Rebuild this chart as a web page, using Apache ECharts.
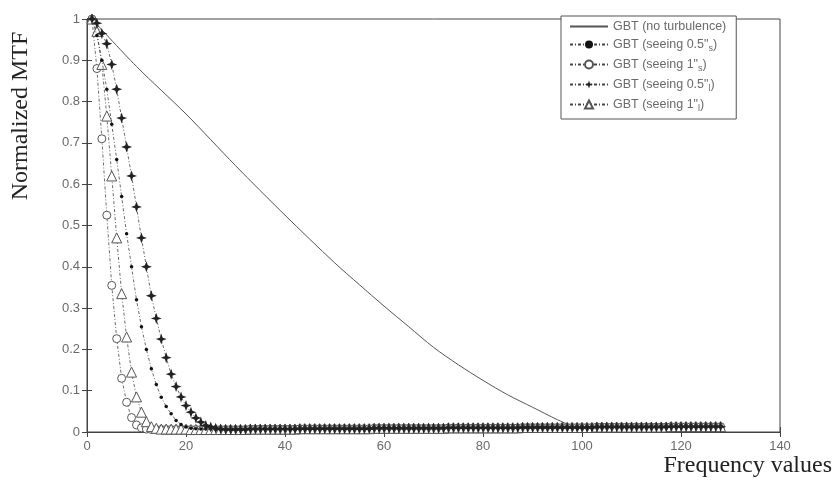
<!DOCTYPE html>
<html>
<head>
<meta charset="utf-8">
<script src="https://cdn.jsdelivr.net/npm/echarts@6/dist/echarts.min.js"></script>
<style>
  html, body { margin: 0; padding: 0; background: #fff; }
  #chart { width: 834px; height: 488px; }
</style>
</head>
<body>
<div id="chart"></div>
<script>
// 频率 x = 1..27 的前段数值，之后共用尾段 (x = 28..128)
var seeing1s = [1, 0.88, 0.71, 0.525, 0.355, 0.226, 0.13, 0.072, 0.035, 0.017, 0.01, 0.007,
  0.006, 0.006, 0.006, 0.006, 0.006, 0.006, 0.006, 0.006, 0.006, 0.006, 0.006, 0.006, 0.006, 0.006, 0.006]
var seeing1l = [1, 0.97, 0.89, 0.765, 0.62, 0.47, 0.335, 0.23, 0.145, 0.085, 0.048, 0.025,
  0.013, 0.009, 0.007, 0.007, 0.007, 0.007, 0.007, 0.007, 0.006, 0.006, 0.006, 0.006, 0.006, 0.006, 0.006]
var seeing05s = [1, 0.96, 0.90, 0.83, 0.745, 0.66, 0.57, 0.48, 0.40, 0.32, 0.255, 0.20,
  0.153, 0.115, 0.084, 0.062, 0.044, 0.028, 0.018, 0.012, 0.009, 0.008, 0.007, 0.007, 0.007, 0.006, 0.006]
var seeing05l = [1, 0.99, 0.965, 0.94, 0.89, 0.83, 0.76, 0.69, 0.62, 0.545, 0.47, 0.40,
  0.33, 0.275, 0.225, 0.18, 0.14, 0.11, 0.085, 0.064, 0.048, 0.034, 0.024, 0.016, 0.012, 0.009, 0.007]
var tailMTF = [
  0.006, 0.006, 0.006, 0.006, 0.006, 0.007, 0.007, 0.007, 0.007, 0.007,
  0.007, 0.007, 0.007, 0.007, 0.007, 0.008, 0.008, 0.008, 0.008, 0.008,
  0.008, 0.008, 0.008, 0.008, 0.008, 0.008, 0.008, 0.008, 0.008, 0.008,
  0.009, 0.009, 0.009, 0.009, 0.009, 0.009, 0.009, 0.009, 0.009, 0.009,
  0.009, 0.009, 0.009, 0.009, 0.009, 0.010, 0.010, 0.010, 0.010, 0.010,
  0.010, 0.010, 0.010, 0.010, 0.010, 0.010, 0.010, 0.010, 0.010, 0.010,
  0.011, 0.011, 0.011, 0.011, 0.011, 0.011, 0.011, 0.011, 0.011, 0.011,
  0.011, 0.011, 0.011, 0.011, 0.011, 0.012, 0.012, 0.012, 0.012, 0.012,
  0.012, 0.012, 0.012, 0.012, 0.012, 0.012, 0.012, 0.012, 0.012, 0.012,
  0.013, 0.013, 0.013, 0.013, 0.013, 0.013, 0.013, 0.013, 0.013, 0.013,
  0.013
]
// 无湍流曲线 [频率, MTF]
var noTurbX = [1, 10, 20, 30, 40, 50, 55, 60, 65, 70, 75, 80, 85, 90, 95, 98, 100, 110, 120, 128]
var noTurbY = [1, 0.885, 0.77, 0.645, 0.525, 0.41, 0.357, 0.305, 0.255, 0.205, 0.163, 0.125, 0.09, 0.06, 0.03, 0.015, 0.011, 0.012, 0.013, 0.013]
var xTicks = [0, 20, 40, 60, 80, 100, 120, 140]
var yTicks = [0, 0.1, 0.2, 0.3, 0.4, 0.5, 0.6, 0.7, 0.8, 0.9, 1]

function toPairs(head) {
  var arr = head.concat(tailMTF)
  return arr.map(function (v, i) { return [i + 1, v] })
}
var noTurb = noTurbX.map(function (x, i) { return [x, noTurbY[i]] })

var starPath = 'path://M0,-10 L2.6,-2.6 L10,0 L2.6,2.6 L0,10 L-2.6,2.6 L-10,0 L-2.6,-2.6 Z'
var dashLine = { color: '#444', width: 0.8, type: [3, 2, 1, 2] }
var labelFont = { color: '#6a6a6a', fontSize: 13, fontFamily: 'Liberation Sans, Arial, sans-serif' }

var chart = echarts.init(document.getElementById('chart'))
chart.setOption({
  animation: false,
  backgroundColor: '#fff',
  grid: { left: 87, right: 54, top: 19, bottom: 56, show: true, borderColor: '#444', borderWidth: 1 },
  legend: {
    orient: 'vertical',
    left: 561,
    top: 16,
    width: 210,
    padding: [4, 10, 6, 8],
    itemGap: 5,
    itemWidth: 38,
    itemHeight: 10,
    borderColor: '#555',
    borderWidth: 1,
    backgroundColor: '#fff',
    textStyle: {
      color: '#6a6a6a',
      fontSize: 12.5,
      fontFamily: 'Liberation Sans, Arial, sans-serif',
      rich: {
        sub: { fontSize: 9, color: '#6a6a6a', verticalAlign: 'bottom', padding: [8, 0, 0, 0] }
      }
    },
    formatter: function (name) {
      var map = {
        'no': 'GBT (no turbulence)',
        's05': 'GBT (seeing 0.5"{sub|s})',
        's1': 'GBT (seeing 1"{sub|s})',
        'l05': 'GBT (seeing 0.5"{sub|l})',
        'l1': 'GBT (seeing 1"{sub|l})'
      }
      return map[name]
    },
    data: [{ name: 'no', itemStyle: { opacity: 0 } }, 's05', 's1', 'l05', 'l1']
  },
  xAxis: [{
    type: 'value',
    min: 0,
    max: 140,
    interval: 20,
    axisLine: { show: true, onZero: false, lineStyle: { color: '#444' } },
    axisTick: { show: true, inside: true, length: 5, lineStyle: { color: '#444' } },
    axisLabel: Object.assign({ margin: 8, formatter: function (v) { return xTicks.indexOf(v) >= 0 ? String(v) : '' } }, labelFont),
    splitLine: { show: false }
  }, {
    type: 'value',
    position: 'top',
    min: 0,
    max: 140,
    interval: 20,
    axisLine: { show: true, lineStyle: { color: '#444' } },
    axisTick: { show: true, inside: true, length: 5, lineStyle: { color: '#444' } },
    axisLabel: { show: false },
    splitLine: { show: false }
  }],
  yAxis: [{
    type: 'value',
    min: 0,
    max: 1,
    interval: 0.1,
    axisLine: { show: true, onZero: false, lineStyle: { color: '#444' } },
    axisTick: { show: true, inside: true, length: 5, lineStyle: { color: '#444' } },
    axisLabel: Object.assign({ margin: 7, formatter: function (v) {
      var t = Math.round(v * 10) / 10
      return yTicks.indexOf(t) >= 0 ? String(t) : ''
    } }, labelFont),
    splitLine: { show: false }
  }, {
    type: 'value',
    position: 'right',
    min: 0,
    max: 1,
    interval: 0.1,
    axisLine: { show: true, lineStyle: { color: '#444' } },
    axisTick: { show: true, inside: true, length: 5, lineStyle: { color: '#444' } },
    axisLabel: { show: false },
    splitLine: { show: false }
  }],
  graphic: [
    {
      type: 'text',
      x: 21,
      y: 116,
      rotation: Math.PI / 2,
      style: {
        text: 'Normalized MTF',
        fill: '#222',
        fontSize: 24,
        fontFamily: 'Liberation Serif, Times New Roman, serif',
        align: 'center',
        verticalAlign: 'middle'
      }
    },
    {
      type: 'text',
      x: 832,
      y: 466,
      style: {
        text: 'Frequency values',
        fill: '#222',
        fontSize: 24,
        fontFamily: 'Liberation Serif, Times New Roman, serif',
        align: 'right',
        verticalAlign: 'middle'
      }
    }
  ],
  series: [
    {
      name: 'no',
      type: 'line',
      data: noTurb,
      symbol: 'none',
      smooth: 0.3,
      itemStyle: { color: '#555' },
      lineStyle: { color: '#555', width: 1 },
      z: 1
    },
    {
      name: 's05',
      type: 'line',
      data: toPairs(seeing05s),
      symbol: 'circle',
      symbolSize: 3.5,
      itemStyle: { color: '#111' },
      lineStyle: dashLine,
      z: 3
    },
    {
      name: 's1',
      type: 'line',
      data: toPairs(seeing1s),
      symbol: 'circle',
      symbolSize: 8,
      itemStyle: { color: '#fff', borderColor: '#555', borderWidth: 1 },
      lineStyle: dashLine,
      z: 2
    },
    {
      name: 'l05',
      type: 'line',
      data: toPairs(seeing05l),
      symbol: starPath,
      symbolSize: 11,
      itemStyle: { color: '#222' },
      lineStyle: dashLine,
      z: 4
    },
    {
      name: 'l1',
      type: 'line',
      data: toPairs(seeing1l),
      symbol: 'triangle',
      symbolSize: 10,
      itemStyle: { color: '#fff', borderColor: '#555', borderWidth: 1 },
      lineStyle: dashLine,
      z: 2
    }
  ]
})
</script>
</body>
</html>
